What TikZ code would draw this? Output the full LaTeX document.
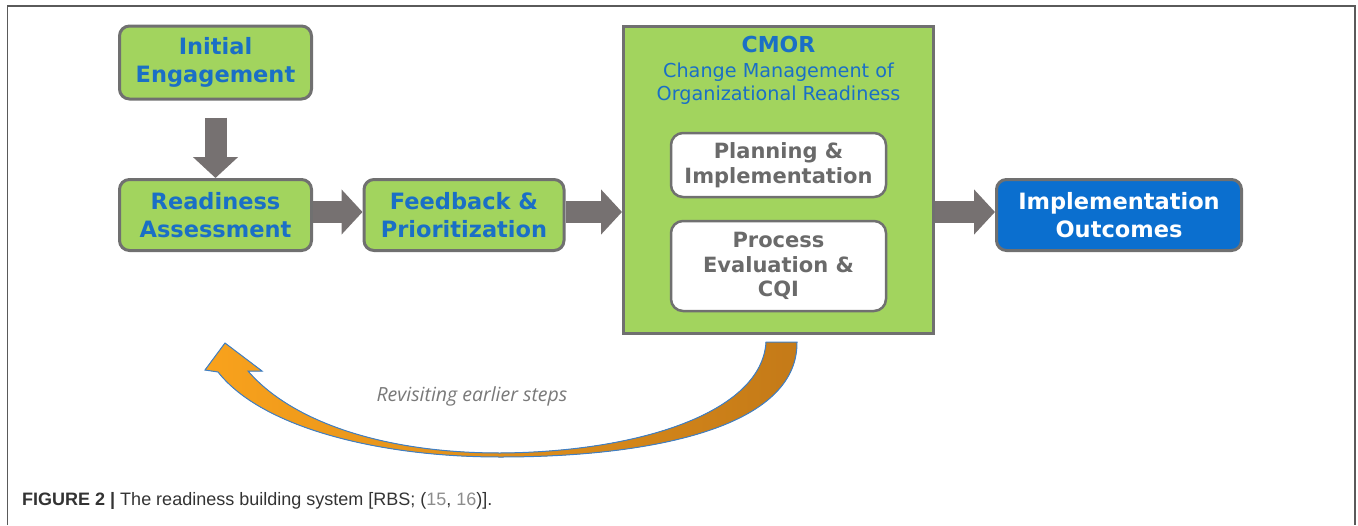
\documentclass[tikz,border=0pt]{standalone}
\usepackage{fontspec}
\setmainfont{DejaVu Sans}
\newfontfamily\capfont{Liberation Sans}
\newfontfamily\itfont{Open Sans}
\usetikzlibrary{arrows.meta}
\definecolor{gfill}{HTML}{A2D45E}
\definecolor{bord}{HTML}{707070}
\definecolor{arr}{HTML}{767171}
\definecolor{btext}{HTML}{1A6FC6}
\definecolor{bfill}{HTML}{0B6FCF}
\definecolor{gtext}{HTML}{6A6A6A}
\definecolor{oranA}{HTML}{F9A21C}
\definecolor{oranB}{HTML}{C47A18}
\definecolor{oline}{HTML}{3F7FC4}
\definecolor{frame}{HTML}{5A5A5A}
\tikzset{
  gbox/.style={draw=bord, line width=3pt, fill=gfill, rounded corners=10pt, align=center,
    text=btext, font=\fontsize{22.5}{28}\selectfont\bfseries, inner sep=0pt},
  wbox/.style={draw=bord, line width=2.5pt, fill=white, rounded corners=12pt, align=center,
    text=gtext, font=\fontsize{21}{24.5}\selectfont\bfseries, inner sep=0pt,
    minimum width=215pt},
  bbox/.style={gbox, fill=bfill, text=white},
  barrow/.style={draw=arr, line width=22pt, -{Triangle[width=44pt,length=21pt]}}
}
\begin{document}
\begin{tikzpicture}[x=1pt,y=-1pt]
\useasboundingbox (0,0) rectangle (1358,525);
% frame
\draw[frame, line width=1.5pt] (7.5,525) -- (7.5,6) -- (1355,6) -- (1355,525);
% nodes
\node[gbox, minimum width=192pt, minimum height=73pt] (ie) at (215.5,62.5) {Initial\\Engagement};
\node[gbox, minimum width=192pt, minimum height=71pt] (ra) at (215.5,215) {Readiness\\Assessment};
\node[gbox, minimum width=200pt, minimum height=71pt] (fp) at (464,215) {Feedback \&\\Prioritization};
\node[draw=bord, line width=3pt, fill=gfill, minimum width=310pt, minimum height=307pt, inner sep=0pt] (cmor) at (778.5,179.5) {};
\node[align=center, text=btext, font=\fontsize{19.2}{22.5}\selectfont, inner sep=0pt] (cmt) at (778.5,70)
  {{\fontsize{22}{22}\selectfont\bfseries CMOR}\\[3pt]Change Management of\\Organizational Readiness};
\node[wbox, minimum height=64pt] (pi) at (778.5,165) {Planning \&\\Implementation};
\node[wbox, minimum height=90pt] (pe) at (778.5,266) {Process\\Evaluation \&\\CQI};
\node[bbox, minimum width=245pt, minimum height=71pt] (io) at (1119,215) {Implementation\\Outcomes};
% arrows
\draw[barrow, shorten <=17pt] (ie.south) -- (ra.north);
\draw[barrow] ([yshift=3pt]ra.east) -- ([yshift=3pt]fp.west);
\draw[barrow] ([yshift=3pt]fp.east) -- ([yshift=3pt]fp.east -| cmor.west);
\draw[barrow] ([yshift=3pt]io.west -| cmor.east) -- ([yshift=3pt]io.west);
% curved return arrow
\coordinate (tin) at (766,342);
\coordinate (tout) at (797,342);
\filldraw[draw=oline, line width=1pt, left color=oranA, right color=oranB]
  (tin) .. controls (762,412) and (640,452) .. (500,453)
  .. controls (380,453) and (290,420) .. (248,371)
  -- (262,371) -- (225,343) -- (205,370) -- (218,372)
  .. controls (262,428) and (380,457) .. (500,457)
  .. controls (650,457) and (798,428) .. (tout) -- cycle;
\node[text=gtext!90, font=\itfont\itshape\fontsize{19.5}{22}\selectfont, inner sep=0pt] (rev) at (472,396) {Revisiting earlier steps};
% caption
\node[anchor=base west, font=\capfont\fontsize{18}{20}\selectfont, text=black!80, inner sep=0pt] (cap) at (22,505)
  {\textbf{FIGURE 2 |} The readiness building system [RBS; ({\color{black!45}15}, {\color{black!45}16})].};
\end{tikzpicture}
\end{document}
